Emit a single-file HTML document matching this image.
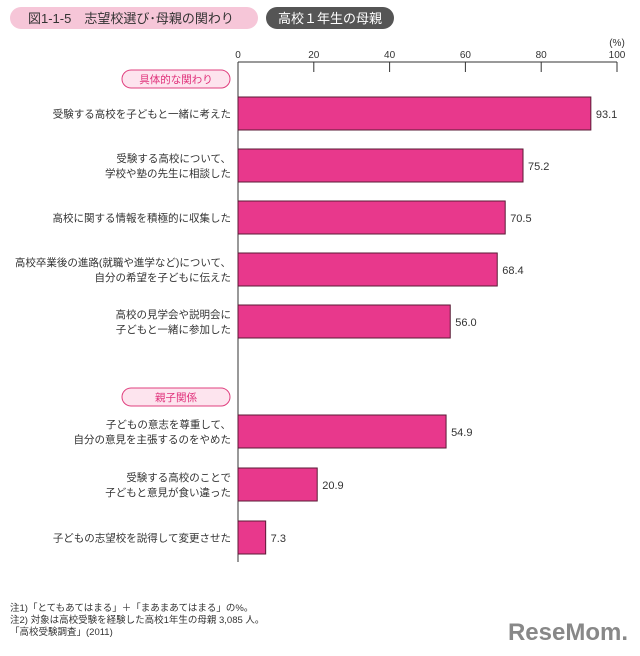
<!DOCTYPE html>
<html><head><meta charset="utf-8">
<style>
body{margin:0;background:#fff;width:640px;height:651px;overflow:hidden;font-family:"Liberation Sans","Noto Sans CJK JP",sans-serif;}
svg text{font-family:"Liberation Sans","Noto Sans CJK JP",sans-serif;}
</style></head>
<body>
<svg width="640" height="651" id="chart">
  <g>
    <rect x="10" y="7" width="248" height="22" rx="11" fill="#f6c6d8"/>
    <text x="28" y="23" font-size="13" fill="#333">図1-1-5　志望校選び･母親の関わり</text>
    <rect x="266" y="7" width="128" height="22" rx="11" fill="#555"/>
    <text x="330" y="23" font-size="13" fill="#fff" text-anchor="middle">高校１年生の母親</text>
  </g>
  <g id="axis"></g>
  <g id="groups"></g>
  <g id="bars"></g>
  <g font-size="9.5" fill="#333">
    <text x="10" y="611">注1)「とてもあてはまる」＋「まあまあてはまる」の%。</text>
    <text x="10" y="623">注2) 対象は高校受験を経験した高校1年生の母親 3,085 人。</text>
    <text x="10" y="635">「高校受験調査」(2011)</text>
  </g>
  <text x="628" y="640" font-size="24" font-weight="bold" fill="#888" text-anchor="end">ReseMom.</text>
</svg>
<script>
const categories=[
 ["受験する高校を子どもと一緒に考えた"],
 ["受験する高校について、","学校や塾の先生に相談した"],
 ["高校に関する情報を積極的に収集した"],
 ["高校卒業後の進路(就職や進学など)について、","自分の希望を子どもに伝えた"],
 ["高校の見学会や説明会に","子どもと一緒に参加した"],
 ["子どもの意志を尊重して、","自分の意見を主張するのをやめた"],
 ["受験する高校のことで","子どもと意見が食い違った"],
 ["子どもの志望校を説得して変更させた"]
];
const values=[93.1,75.2,70.5,68.4,56.0,54.9,20.9,7.3];
const ticks=[0,20,40,60,80,100];
const groupLabels=["具体的な関わり","親子関係"];
const groupStart=[0,5];

const NS="http://www.w3.org/2000/svg";
const x0=238,x1=617;
function xs(v){return x0+(x1-x0)*v/100;}
function rowY(i){return i<5?97+52*i:415+53*(i-5);}
function mk(tag,attrs,parent,txt){const e=document.createElementNS(NS,tag);for(const k in attrs)e.setAttribute(k,attrs[k]);if(txt!==undefined)e.textContent=txt;parent.appendChild(e);return e;}
const ax=document.getElementById('axis'),gb=document.getElementById('bars'),gg=document.getElementById('groups');
let l=mk('line',{x1:x0,y1:62,x2:x1,y2:62,stroke:'#333','stroke-width':1},ax);


l=mk('line',{x1:x0,y1:62,x2:x0,y2:562,stroke:'#333','stroke-width':1},ax);


ticks.forEach(t=>{
 const tl=mk('line',{x1:xs(t),y1:62,x2:xs(t),y2:72,stroke:'#333'},ax);
 
 
 const tx=mk('text',{x:xs(t),y:58,'font-size':10,'text-anchor':'middle',fill:'#333'},ax,String(t));
 
 
});
const pu=mk('text',{x:x1,y:46,'font-size':10,'text-anchor':'middle',fill:'#333'},ax,'(%)');


groupLabels.forEach((g,k)=>{
 const y=rowY(groupStart[k])-18;
 const r=mk('rect',{x:122,y:y-9,width:108,height:18,rx:9,fill:'#fde4ee',stroke:'#e0407f','stroke-width':1},gg);
 
 
 const t=mk('text',{x:176,y:y+4,'font-size':10.5,'text-anchor':'middle',fill:'#e0307a'},gg,g);
 
 
});
values.forEach((v,i)=>{
 const y=rowY(i);
 const b=mk('rect',{x:x0,y:y,width:xs(v)-x0,height:33,fill:'#e8388c',stroke:'#5a1a35','stroke-width':1},gb);
 
 
 const vl=mk('text',{x:xs(v)+5,y:y+21,'font-size':11,fill:'#333'},gb,v.toFixed(1));
 
 
 const lines=categories[i];
 lines.forEach((s,j)=>{
  const ly=y+16.5+(j-(lines.length-1)/2)*15+4;
  const ct=mk('text',{x:231,y:ly,'font-size':10.5,'text-anchor':'end',fill:'#333'},gb,s);
  
  
 });
});
</script>
</body></html>
